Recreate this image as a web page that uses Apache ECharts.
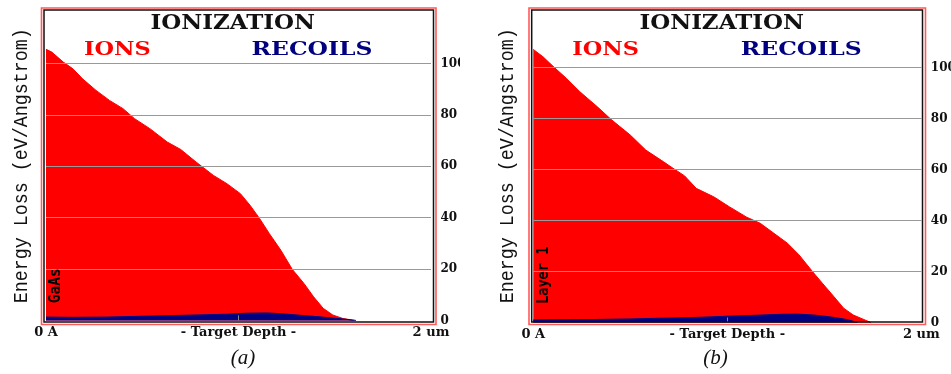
<!DOCTYPE html>
<html>
<head>
<meta charset="utf-8">
<script src="https://cdn.jsdelivr.net/npm/echarts@6/dist/echarts.min.js"></script>
<style>
html,body{margin:0;padding:0;background:#fff;width:951px;height:374px;overflow:hidden;}
#a{position:absolute;left:0;top:0;width:460px;height:374px;}
#b{position:absolute;left:480px;top:0;width:471px;height:374px;}
</style>
</head>
<body>
<div id="a"></div>
<div id="b"></div>
<script>
// ---- data ----
const xTickLabels = ['0 A', '- Target Depth -', '2 um'];
const yTickValues = [0, 20, 40, 60, 80, 100];

const depthA   = [0.00,0.03,0.09,0.14,0.19,0.26,0.33,0.40,0.46,0.54,0.63,0.70,0.78,0.87,0.94,1.01,1.06,1.11,1.16,1.22,1.28,1.34,1.39,1.44,1.49,1.54,1.60];
const ionsA    = [105.5,104.4,100.5,97.9,94.0,89.5,85.6,82.4,78.5,74.6,69.4,66.5,61.6,56.4,53.2,49.3,44.8,39.6,33.8,27.3,19.8,14.4,9.2,4.7,2.1,0.8,0];
const rDepthA  = [0.00,0.14,0.32,0.49,0.66,0.83,0.94,1.04,1.15,1.22,1.32,1.42,1.49,1.56,1.61];
const recoilsA = [1.3,1.2,1.3,1.6,1.9,2.2,2.4,2.8,2.9,2.6,2.0,1.4,0.9,0.4,0];

const depthB   = [0.00,0.05,0.11,0.17,0.24,0.33,0.40,0.50,0.58,0.67,0.72,0.78,0.84,0.93,1.01,1.10,1.17,1.24,1.31,1.37,1.44,1.49,1.55,1.60,1.65,1.70,1.74];
const ionsB    = [107.1,104.2,99.9,95.8,90.5,84.6,79.7,73.5,67.6,63.1,60.5,57.5,52.6,49.3,45.4,41.3,38.9,35.0,31.1,26.5,19.9,15.4,10.1,5.6,2.9,1.3,0];
const rDepthB  = [0.00,0.17,0.33,0.50,0.67,0.84,1.01,1.17,1.27,1.36,1.45,1.53,1.60,1.63,1.67];
const recoilsB = [1.0,1.1,1.2,1.4,1.7,2.0,2.5,2.9,3.2,3.3,2.9,2.2,1.4,0.9,0];

// ---- helpers ----
const mctx = document.createElement('canvas').getContext('2d');
function fitScale(text, font, target){ mctx.font = font; const w = mctx.measureText(text).width; return w > 0 ? target / w : 1; }
function txt(text, cx, cy, font, color, target, rot){
  const sx = target ? fitScale(text, font, target) : 1;
  return {type:'text', x:cx, y:cy, rotation: rot || 0, scaleX: sx, z:100, silent:true,
    style:{text:text, font:font, fill:color, align:'center', verticalAlign:'middle', textAlign:'center', textVerticalAlign:'middle'}};
}
function pairs(xs, ys){ return xs.map((x,i)=>[x, ys[i]]); }

const TITLE_FONT = 'bold 20px "DejaVu Serif"';
const LEG_FONT = 'bold 18px "DejaVu Serif"';
const YNAME_FONT = '21px "Liberation Mono"';
const MAT_FONT = 'bold 15px "DejaVu Sans Mono"';
const CAP_FONT = 'italic 21px "Liberation Serif"';

function makeOption(p){
  return {
    animation:false,
    backgroundColor:'#fff',
    grid:{left:p.gl, right:p.gr, top:p.gt, bottom:p.gb, containLabel:false, outerBoundsMode:'none'},
    xAxis:{type:'value', min:0, max:2, interval:1,
      axisLine:{show:false}, splitLine:{show:false},
      axisTick:{show:true, inside:true, length:5, customValues:[1], lineStyle:{color:'#888', width:1}},
      axisLabel:{show:true, margin:6, showMinLabel:true, showMaxLabel:true, hideOverlap:false,
        fontFamily:'DejaVu Serif', fontWeight:'bold', fontSize:13, color:'#111',
        formatter:(v)=>{ const i = Math.round(v); return (Math.abs(v-i)<1e-6 && xTickLabels[i]!==undefined) ? xTickLabels[i] : ''; }}
    },
    yAxis:{type:'value', position:'right', min:0, max:120, interval:20,
      axisLine:{show:false}, axisTick:{show:false},
      axisLabel:{show:true, margin:9.5, showMaxLabel:false, showMinLabel:true, align:'left', hideOverlap:false,
        fontFamily:'DejaVu Serif', fontWeight:'bold', fontSize:12, color:'#111',
        formatter:(v)=> yTickValues.indexOf(v) >= 0 ? String(v) : ''},
      splitLine:{show:true, showMinLine:false, showMaxLine:false, lineStyle:{color:'#999', width:1}}
    },
    series:[
      {name:'IONS', type:'line', data:pairs(p.depth, p.ions), showSymbol:false, z:-2,
        lineStyle:{color:'#ff0000', width:1}, areaStyle:{color:'#ff0000', opacity:1}, itemStyle:{color:'#ff0000'}},
      {name:'RECOILS', type:'line', data:pairs(p.rDepth, p.recoils), showSymbol:false, z:-1,
        lineStyle:{color:'#000080', width:1}, areaStyle:{color:'#000080', opacity:1}, itemStyle:{color:'#000080'}}
    ],
    graphic:[
      {type:'rect', shape:{x:p.ox0, y:p.oy0, width:p.ox1-p.ox0, height:p.oy1-p.oy0}, z:90, silent:true,
        style:{fill:'none', stroke:'#ff5a5a', lineWidth:1.6}},
      {type:'rect', shape:{x:p.ix0, y:p.iy0, width:p.ix1-p.ix0, height:p.iy1-p.iy0}, z:90, silent:true,
        style:{fill:'none', stroke:'#111', lineWidth:1.5}},
      txt('IONIZATION', p.tx, 23.3, TITLE_FONT, '#111', 164.6),
      txt('IONS', p.ionsX, 50, LEG_FONT, '#ff0000', 66.7),
      txt('RECOILS', p.recX, 50, LEG_FONT, '#000080', 120.8),
      txt('Energy Loss (eV/Angstrom)', p.ynX, 165.8, YNAME_FONT, '#111', 275, Math.PI/2),
      txt(p.mat, p.matX, p.matY, MAT_FONT, '#000', p.matW, Math.PI/2),
      txt(p.cap, p.capX, 358, CAP_FONT, '#111', 0)
    ]
  };
}

const chartA = echarts.init(document.getElementById('a'), null, {renderer:'canvas'});
chartA.setOption(makeOption({
  gl:46, gr:29, gt:12, gb:53.6,
  depth:depthA, ions:ionsA, rDepth:rDepthA, recoils:recoilsA,
  ox0:41.5, oy0:8, ox1:436, oy1:324.5,
  ix0:44, iy0:10, ix1:433.5, iy1:322,
  tx:232.8, ionsX:117.3, recX:312, ynX:21,
  mat:'GaAs', matX:56.3, matY:285.7, matW:35,
  cap:'(a)', capX:243
}));

const chartB = echarts.init(document.getElementById('b'), null, {renderer:'canvas'});
chartB.setOption(makeOption({
  gl:53.3, gr:29.7, gt:16.5, gb:51.5,
  depth:depthB, ions:ionsB, rDepth:rDepthB, recoils:recoilsB,
  ox0:49, oy0:8, ox1:445.5, oy1:324.5,
  ix0:51.7, iy0:10, ix1:442.5, iy1:322,
  tx:241.7, ionsX:125.7, recX:321.2, ynX:27.7,
  mat:'Layer 1', matX:64, matY:275.3, matW:57.3,
  cap:'(b)', capX:235.5
}));
</script>
</body>
</html>
